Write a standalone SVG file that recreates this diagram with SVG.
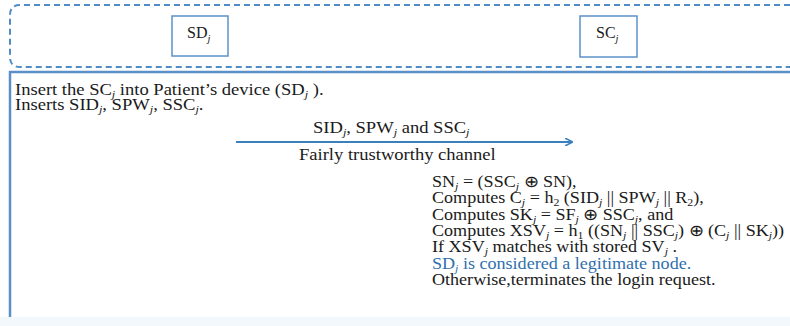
<svg xmlns="http://www.w3.org/2000/svg" width="790" height="326" viewBox="0 0 790 326">
  <defs>
    <marker id="arrowhead" viewBox="0 0 10 10" refX="9" refY="5" markerWidth="8" markerHeight="8" orient="auto" markerUnits="userSpaceOnUse">
      <path d="M0,0 L10,5 L0,10" fill="none" stroke="#3a7fc0" stroke-width="2"/>
    </marker>
  </defs>
  <style>
    text { font-family: "Liberation Serif", "Times New Roman", serif; font-size: 16px; fill: #1a1a1a; }
    .sub { font-size: 10.5px; font-style: italic; }
    .sub2 { font-size: 10.5px; }
    .blue { fill: #2f6fae; }
    .node { fill: #ffffff; stroke: #5b93c9; stroke-width: 1.5; }
    .lane { fill: none; stroke: #4f8cc4; stroke-width: 2; stroke-dasharray: 6 4; }
    .frame { fill: none; stroke: #5b8fc7; stroke-width: 2.5; }
    .conn { stroke: #3a7fc0; stroke-width: 2; fill: none; }
  </style>
  <rect width="790" height="326" fill="#ffffff"/>
  <rect x="0" y="317" width="790" height="9" fill="#f3f8fc"/>

  <!-- participants lane -->
  <path class="lane" d="M800,5 H20 Q10,5 10,15 V57 Q10,67 20,67 H800"/>

  <g id="node-sd">
    <rect class="node" x="172" y="16" width="56" height="40"/>
    <text x="187" y="38">SD<tspan class="sub" dy="4">j</tspan></text>
  </g>
  <g id="node-sc">
    <rect class="node" x="580" y="16" width="57" height="41"/>
    <text x="596" y="38">SC<tspan class="sub" dy="4">j</tspan></text>
  </g>

  <!-- message area frame -->
  <path class="frame" d="M10,317 V72 H790"/>

  <!-- device-side steps -->
  <g id="node-sd-steps" transform="translate(15,0) scale(1.16,1) translate(-15,0)">
    <text x="15" y="95">Insert the SC<tspan class="sub" dy="3">j</tspan><tspan dy="-3"> into Patient’s device (SD</tspan><tspan class="sub" dy="3">j</tspan><tspan dy="-3"> ).</tspan></text>
    <text x="15" y="110">Inserts SID<tspan class="sub" dy="3">j</tspan><tspan dy="-3">, SPW</tspan><tspan class="sub" dy="3">j</tspan><tspan dy="-3">, SSC</tspan><tspan class="sub" dy="3">j</tspan><tspan dy="-3">.</tspan></text>
  </g>

  <g id="connectors">
    <line class="conn" x1="236" y1="142" x2="572" y2="142" marker-end="url(#arrowhead)"/>
    <g transform="translate(313,0) scale(1.16,1) translate(-313,0)">
      <text x="313" y="133">SID<tspan class="sub" dy="3">j</tspan><tspan dy="-3">, SPW</tspan><tspan class="sub" dy="3">j</tspan><tspan dy="-3"> and SSC</tspan><tspan class="sub" dy="3">j</tspan></text>
    </g>
    <g transform="translate(299,0) scale(1.16,1) translate(-299,0)">
      <text x="299" y="160">Fairly trustworthy channel</text>
    </g>
  </g>

  <!-- card-side verification -->
  <g id="node-sc-steps" transform="translate(432,0) scale(1.13,1) translate(-432,0)">
    <text x="432" y="187">SN<tspan class="sub" dy="3">j</tspan><tspan dy="-3"> = (SSC</tspan><tspan class="sub" dy="3">j</tspan><tspan dy="-3"> ⊕ SN),</tspan></text>
    <text x="432" y="203">Computes C<tspan class="sub" dy="3">j</tspan><tspan dy="-3"> = h</tspan><tspan class="sub2" dy="3">2</tspan><tspan dy="-3"> (SID</tspan><tspan class="sub" dy="3">j</tspan><tspan dy="-3"> || SPW</tspan><tspan class="sub" dy="3">j</tspan><tspan dy="-3"> || R</tspan><tspan class="sub2" dy="3">2</tspan><tspan dy="-3">),</tspan></text>
    <text x="432" y="220">Computes SK<tspan class="sub" dy="3">j</tspan><tspan dy="-3"> = SF</tspan><tspan class="sub" dy="3">j</tspan><tspan dy="-3"> ⊕  SSC</tspan><tspan class="sub" dy="3">j</tspan><tspan dy="-3">, and</tspan></text>
    <text x="432" y="236">Computes XSV<tspan class="sub" dy="3">j</tspan><tspan dy="-3"> = h</tspan><tspan class="sub2" dy="3">1</tspan><tspan dy="-3"> ((SN</tspan><tspan class="sub" dy="3">j</tspan><tspan dy="-3"> || SSC</tspan><tspan class="sub" dy="3">j</tspan><tspan dy="-3">) ⊕ (C</tspan><tspan class="sub" dy="3">j</tspan><tspan dy="-3"> || SK</tspan><tspan class="sub" dy="3">j</tspan><tspan dy="-3">))</tspan></text>
    <text x="432" y="252">If XSV<tspan class="sub" dy="3">j</tspan><tspan dy="-3"> matches with stored SV</tspan><tspan class="sub" dy="3">j</tspan><tspan dy="-3"> .</tspan></text>
    <text class="blue" x="432" y="269">SD<tspan class="sub" dy="3">j</tspan><tspan dy="-3"> is considered a legitimate node.</tspan></text>
    <text x="432" y="285">Otherwise,terminates the login request.</text>
  </g>
</svg>
